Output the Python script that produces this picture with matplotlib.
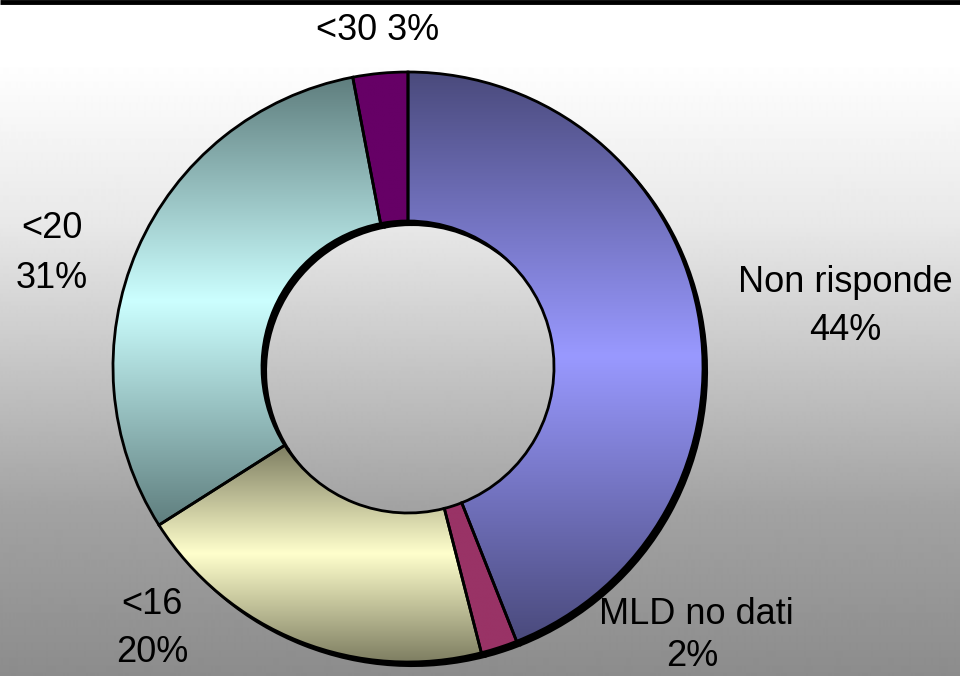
import numpy as np
import matplotlib
matplotlib.use("Agg")
import matplotlib.pyplot as plt
from matplotlib.colors import LinearSegmentedColormap

# data, clockwise from 12 o'clock
labels = ["Non risponde", "MLD no dati", "<16", "<20", "<30"]
values = [44, 2, 20, 31, 3]
light_colors = ["#9999ff", "#993366", "#ffffcc", "#ccffff", "#660066"]
dark_colors = ["#4a4a7c", "#993366", "#7e7e62", "#5f7e7e", "#660066"]

W, H = 960, 676
fig = plt.figure(figsize=(W / 100, H / 100), dpi=100)
ax = fig.add_axes([0, 0, 1, 1])

# background gradient (white at the top, grey at the bottom)
ys = np.array([0, 60, 225, 510, 676])
gs = np.array([255, 255, 232, 162, 140]) / 255.0
col = np.interp(np.arange(H), ys, gs)
bg = np.repeat(col[:, None], 2, axis=1)
ax.imshow(bg, cmap="gray", vmin=0, vmax=1, extent=[0, W, 0, H],
          origin="upper", aspect="auto", zorder=0, interpolation="bilinear")

# top rule
ax.plot([0, W], [H - 2, H - 2], color="black", lw=3.5, zorder=10,
        solid_capstyle="butt")

cx, cy = 408, H - 367
R, ring = 295, 149

# shadow
sh, _ = ax.pie(values, radius=R, center=(cx + 4, cy - 4), startangle=90,
               counterclock=False, frame=True,
               wedgeprops=dict(width=ring, facecolor="black", edgecolor="black",
                               linewidth=1.5))
for w in sh:
    w.set_zorder(2)

wedges, _ = ax.pie(values, radius=R, center=(cx, cy), startangle=90,
                   counterclock=False, frame=True,
                   wedgeprops=dict(width=ring, edgecolor="black", linewidth=2))

for w, lc, dc in zip(wedges, light_colors, dark_colors):
    w.set_facecolor("none")
    w.set_zorder(4)
    ext = w.get_path().get_extents()
    cmap = LinearSegmentedColormap.from_list("g", [dc, lc, dc])
    grad = np.linspace(0, 1, 256)[:, None]
    im = ax.imshow(grad, cmap=cmap, extent=[ext.x0, ext.x1, ext.y0, ext.y1],
                   origin="lower", aspect="auto", zorder=3,
                   interpolation="bilinear")
    im.set_clip_path(w)

ax.set_xlim(0, W)
ax.set_ylim(0, H)
ax.set_aspect("equal")
ax.axis("off")

fs = 26
font = "Liberation Sans"
texts = [
    ("<30 3%", 378, 30),
    ("<20", 52, 228), ("31%", 52, 278),
    ("Non risponde", 845, 283), ("44%", 845, 331),
    ("MLD no dati", 696, 615), ("2%", 692, 657),
    ("<16", 152, 605), ("20%", 152, 652),
]
for t, x, y in texts:
    ax.text(x, H - y, t, ha="center", va="center", fontsize=fs,
            family=font, color="black", zorder=11)

fig.savefig("out.png", dpi=100)
